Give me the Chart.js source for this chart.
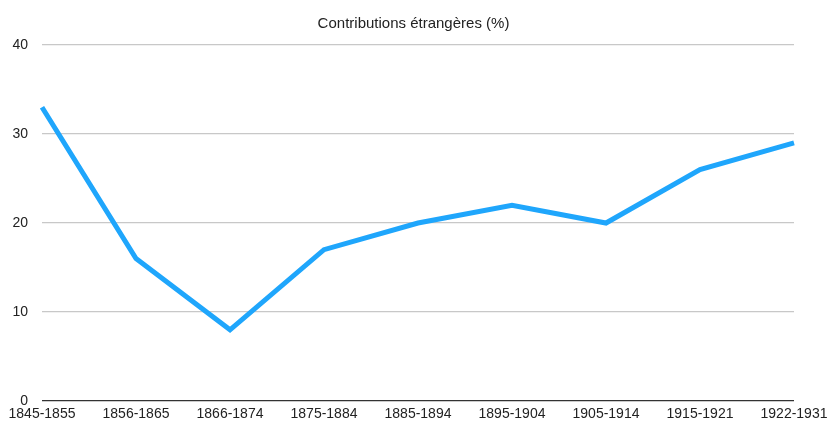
<!DOCTYPE html>
<html>
<head>
<meta charset="utf-8">
<script src="https://cdn.jsdelivr.net/npm/chart.js@4"></script>
<style>
  html, body { margin: 0; padding: 0; background: #fff; }
  #wrap { width: 827px; height: 421px; }
</style>
</head>
<body>
<div id="wrap"><canvas id="myChart" width="827" height="421"></canvas></div>
<script>
const periods = ['1845-1855', '1856-1865', '1866-1874', '1875-1884', '1885-1894',
                 '1895-1904', '1905-1914', '1915-1921', '1922-1931'];
const contributions = [33, 16, 8, 17, 20, 22, 20, 26, 29];
const yTicks = [0, 10, 20, 30, 40];

const fontFamily = '"Liberation Sans", Arial, sans-serif';

var ctx = document.getElementById('myChart').getContext('2d');
var myChart = new Chart(ctx, {
    type: 'line',
    data: {
        labels: periods,
        datasets: [{
            label: 'Contributions étrangères (%)',
            data: contributions,
            borderColor: '#1fa6fc',
            borderWidth: 5,
            pointRadius: 0,
            tension: 0,
            borderJoinStyle: 'miter'
        }]
    },
    options: {
        responsive: false,
        animation: false,
        layout: { padding: { top: 15, right: 0, left: 0, bottom: 0 } },
        plugins: {
            legend: { display: false },
            tooltip: { enabled: false },
            title: {
                display: true,
                text: 'Contributions étrangères (%)',
                color: '#222',
                font: { family: fontFamily, size: 15, weight: 'normal' },
                padding: { top: 0, bottom: 12 }
            }
        },
        scales: {
            x: {
                offset: false,
                grid: { display: false, drawTicks: false },
                border: { display: false },
                ticks: {
                    color: '#222',
                    font: { family: fontFamily, size: 14 },
                    maxRotation: 0,
                    autoSkip: false,
                    padding: 5
                },
                afterFit: function(axis) {
                    axis.height = 20;
                    axis.paddingLeft = 0;
                    axis.paddingRight = 33;
                }
            },
            y: {
                min: 0,
                max: 40,
                afterBuildTicks: function(axis) {
                    axis.ticks = yTicks.map(v => ({ value: v }));
                },
                grid: {
                    drawTicks: false,
                    lineWidth: 1.3,
                    color: function(c) {
                        return c.tick && c.tick.value === 0 ? '#333' : '#c8c8c8';
                    }
                },
                border: { display: false },
                ticks: {
                    color: '#222',
                    font: { family: fontFamily, size: 14 },
                    padding: 14
                },
                afterFit: function(axis) {
                    axis.width = 42;
                    axis.paddingTop = 0;
                    axis.paddingBottom = 0;
                }
            }
        }
    }
});
</script>
</body>
</html>
